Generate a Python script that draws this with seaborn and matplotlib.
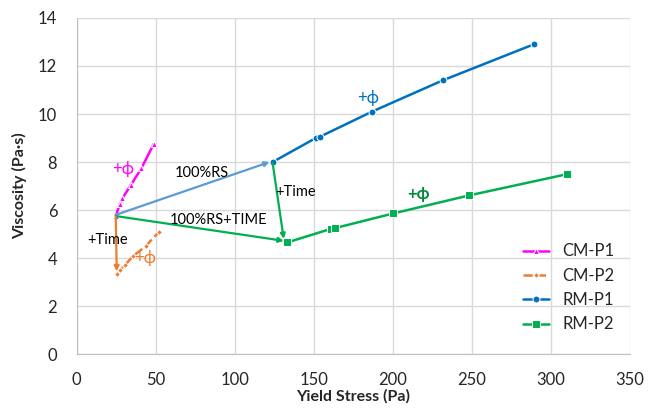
import pandas as pd
import numpy as np
import matplotlib.pyplot as plt
import seaborn as sns

# series
cm_p1_x = [24.7, 27.2, 28.9, 34.2, 40.9, 48.7]
cm_p1_y = [5.75, 6.25, 6.49, 7.04, 7.74, 8.75]

cm_p2_x = [25.3, 27.2, 30.4, 35.6, 43.7, 52.1]
cm_p2_y = [3.35, 3.5, 3.7, 4.08, 4.5, 5.1]

rm_p1_x = [124.0, 151.3, 153.8, 186.9, 231.6, 289.2]
rm_p1_y = [8.0, 9.0, 9.05, 10.1, 11.4, 12.9]

rm_p2_x = [133.1, 161.0, 163.5, 200.4, 248.3, 310.0]
rm_p2_y = [4.65, 5.22, 5.25, 5.86, 6.61, 7.49]

# connecting arrows: (start x, start y, end x, end y, colour)
arrows = [
    (24.7, 5.8, 122.0, 8.0, "#5B9BD5"),
    (24.7, 5.75, 131.0, 4.72, "#00B050"),
    (124.0, 7.95, 131.0, 4.8, "#00B050"),
    (24.7, 5.72, 25.3, 3.45, "#ED7D31"),
]

labels = [
    (29.5, 7.7, "+ϕ", "#FF00FF", "normal", 12),
    (43.5, 4.0, "+ϕ", "#ED7D31", "normal", 12),
    (19.5, 4.75, "+Time", "black", "normal", 10.5),
    (79.0, 7.55, "100%RS", "black", "normal", 10.5),
    (138.5, 6.75, "+Time", "black", "normal", 10.5),
    (89.5, 5.6, "100%RS+TIME", "black", "normal", 10.5),
    (184.5, 10.65, "+ϕ", "#0070C0", "normal", 12),
    (216.5, 6.65, "+ϕ", "#008A3E", "bold", 12),
]

sns.set_style("white")
plt.rcParams['font.family'] = ['Lato', 'DejaVu Sans']

fig = plt.figure(figsize=(6.56, 4.08), dpi=100)
ax = fig.add_axes([0.117, 0.132, 0.843, 0.824])

for x0, y0, x1, y1, c in arrows:
    ax.annotate("", xy=(x1, y1), xytext=(x0, y0),
                arrowprops=dict(arrowstyle="-|>", color=c, lw=1.6,
                                mutation_scale=7, shrinkA=0, shrinkB=0))

sns.lineplot(x=cm_p1_x, y=cm_p1_y, sort=False, ax=ax, color="#FF00FF",
             marker="^", markersize=5, linewidth=1.8, label="CM-P1")
sns.lineplot(x=cm_p2_x, y=cm_p2_y, sort=False, ax=ax, color="#ED7D31",
             marker="D", markersize=3, linewidth=1.8, linestyle="--",
             dashes=(4, 1.5), label="CM-P2")
sns.lineplot(x=rm_p1_x, y=rm_p1_y, sort=False, ax=ax, color="#0070C0",
             marker="o", markersize=5, linewidth=1.8, label="RM-P1")
sns.lineplot(x=rm_p2_x, y=rm_p2_y, sort=False, ax=ax, color="#00B050",
             marker="s", markersize=6, linewidth=1.8, label="RM-P2")

for x, y, t, c, w, fs in labels:
    ax.text(x, y, t, color=c, fontsize=fs, fontweight=w, ha="center", va="center")

ax.set_xlim(0, 350)
ax.set_ylim(0, 14)
ax.set_xticks(np.arange(0, 351, 50))
ax.set_yticks(np.arange(0, 15, 2))
ax.grid(True, color="#D9D9D9", linewidth=1)
ax.set_axisbelow(True)
for s in ["top", "right"]:
    ax.spines[s].set_visible(False)
for s in ["left", "bottom"]:
    ax.spines[s].set_color("#BFBFBF")
ax.tick_params(axis="x", labelsize=12, length=0, pad=13)
ax.tick_params(axis="y", labelsize=12, length=0, pad=14)
ax.set_xlabel("Yield Stress (Pa)", fontsize=11.5, fontweight="bold", labelpad=1)
ax.set_ylabel("Viscosity (Pa·s)", fontsize=11.5, fontweight="bold", labelpad=8)

ax.legend(loc="lower right", bbox_to_anchor=(1.0, 0.02), frameon=False,
          fontsize=12, handlelength=1.6, labelspacing=0.5)

fig.savefig("out.png", dpi=100)
